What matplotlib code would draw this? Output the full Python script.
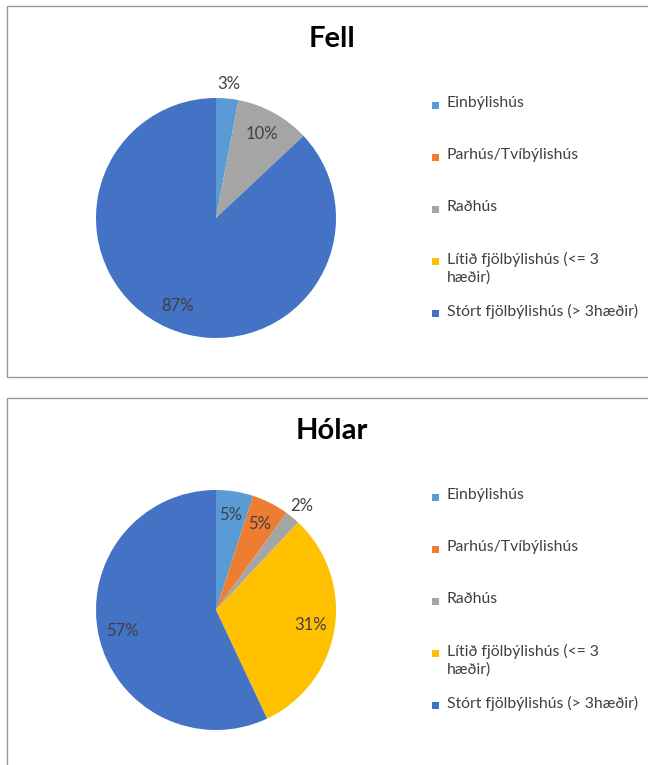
import numpy as np
import matplotlib.pyplot as plt
from matplotlib.patches import Rectangle

plt.rcParams['font.family'] = ['Lato', 'DejaVu Sans']

# Housing types and their share (%) in each neighbourhood
categories = ["Einbýlishús", "Parhús/Tvíbýlishús", "Raðhús",
              "Lítið fjölbýlishús (<= 3\nhæðir)", "Stórt fjölbýlishús (> 3hæðir)"]
fell = [3, 0, 10, 0, 87]
holar = [5, 5, 2, 31, 57]
titles = ["Fell", "Hólar"]

colors = ["#5B9BD5", "#ED7D31", "#A5A5A5", "#FFC000", "#4472C4"]

W, H = 648, 765
fig = plt.figure(figsize=(W / 100, H / 100), dpi=100)


def fx(px):
    return px / W


def fy(py):
    # pixel rows measured from the top
    return 1 - py / H


def draw_panel(values, title, top, bottom):
    # chart frame
    fig.add_artist(Rectangle((fx(7), fy(bottom)), fx(700), fy(top) - fy(bottom),
                             transform=fig.transFigure, fill=False,
                             edgecolor="#9a9a9a", linewidth=1.0))

    fig.text(fx(332), fy(top + 33), title, ha="center", va="center",
             fontsize=21, fontweight="bold", color="black")

    # pie, radius 120 px
    cx, cy, r = 216, top + 212, 120
    ax = fig.add_axes([fx(cx - r), fy(cy + r), fx(2 * r), (2 * r) / H])
    wedges, _ = ax.pie(values, colors=colors, startangle=90, counterclock=False,
                       wedgeprops=dict(linewidth=0))
    ax.set_xlim(-1, 1)
    ax.set_ylim(-1, 1)
    ax.set_aspect("equal")
    ax.axis("off")

    for w, v in zip(wedges, values):
        if v == 0:
            continue
        ang = np.deg2rad((w.theta1 + w.theta2) / 2)
        dist = 0.8 if v >= 4 else 1.12
        ax.text(dist * np.cos(ang), dist * np.sin(ang), f"{v}%",
                ha="center", va="center", fontsize=12, color="#404040")

    # legend on the right
    for i, (cat, col) in enumerate(zip(categories, colors)):
        ly = top + 99 + i * 52
        fig.add_artist(Rectangle((fx(432), fy(ly + 4)), fx(7), 7 / H,
                                 transform=fig.transFigure, facecolor=col,
                                 edgecolor="none"))
        fig.text(fx(447), fy(ly - 9), cat, ha="left", va="top",
                 fontsize=11.3, color="#404040", linespacing=1.3)


draw_panel(fell, titles[0], 6, 377)
draw_panel(holar, titles[1], 398, 800)

fig.savefig("out.png", dpi=100, facecolor="white")
